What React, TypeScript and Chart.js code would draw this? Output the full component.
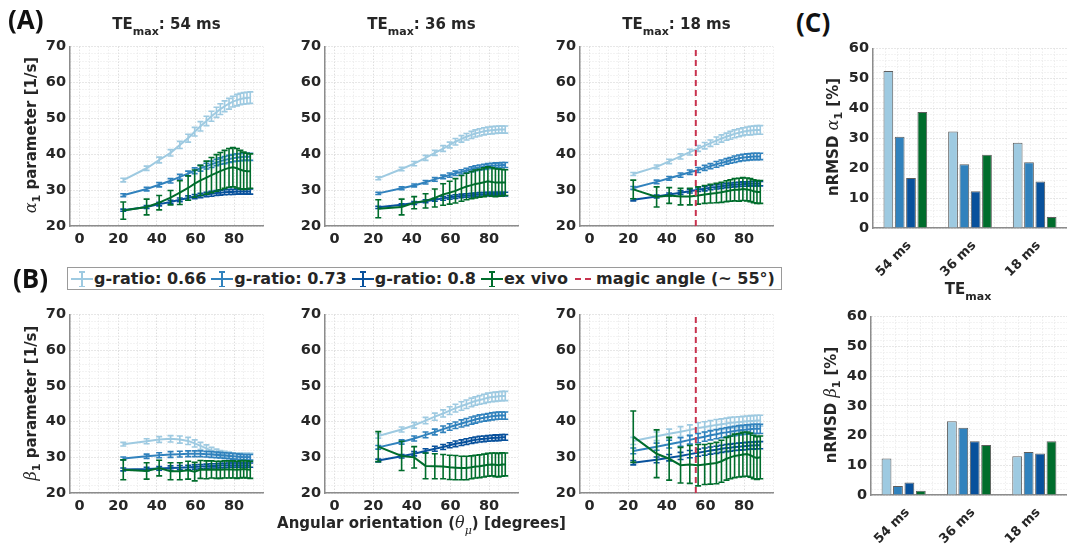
import React, { useEffect, useRef } from 'react';
import { Chart, registerables } from 'chart.js';

Chart.register(...registerables);

// ---------- data ----------
const ANGLES_DEG = [22.6, 34.7, 41.2, 47.1, 51.9, 56.2, 59.6, 62.6, 65.7, 68.3, 70.9, 72.9, 75.1, 77.4, 79.4, 81.5, 83.3, 85.0, 86.7, 88.4];
const MAGIC_ANGLE = 55;

// (A) alpha_1, TEmax 54 ms
const A54_G066 = [32.8, 36.1, 38.4, 40.4, 42.6, 44.5, 46.3, 47.8, 49.3, 50.6, 51.7, 52.6, 53.4, 54.1, 54.7, 55.1, 55.4, 55.6, 55.7, 55.8];
const A54_G066_ERR = [0.5, 0.6, 0.8, 0.9, 1.0, 1.1, 1.2, 1.3, 1.3, 1.4, 1.4, 1.5, 1.5, 1.5, 1.5, 1.6, 1.6, 1.6, 1.6, 1.6];
const A54_G073 = [28.6, 30.3, 31.5, 32.6, 33.7, 34.6, 35.4, 36.1, 36.7, 37.2, 37.7, 38.1, 38.4, 38.7, 38.9, 39.1, 39.2, 39.3, 39.3, 39.3];
const A54_G073_ERR = [0.4, 0.5, 0.6, 0.6, 0.7, 0.7, 0.8, 0.8, 0.8, 0.9, 0.9, 0.9, 1.0, 1.0, 1.0, 1.0, 1.0, 1.0, 1.0, 1.0];
const A54_G080 = [24.4, 25.3, 26.1, 26.7, 27.3, 27.8, 28.2, 28.5, 28.8, 29.0, 29.2, 29.3, 29.4, 29.5, 29.5, 29.6, 29.6, 29.6, 29.6, 29.6];
const A54_G080_ERR = [0.3, 0.4, 0.5, 0.5, 0.5, 0.6, 0.6, 0.6, 0.6, 0.7, 0.7, 0.7, 0.7, 0.7, 0.7, 0.7, 0.7, 0.7, 0.7, 0.7];
const A54_EXV = [24.3, 25.3, 26.5, 27.9, 29.3, 30.6, 31.8, 32.7, 33.5, 34.2, 34.8, 35.3, 35.8, 36.2, 36.4, 36.1, 35.7, 35.4, 35.3, 35.3];
const A54_EXV_ERR = [2.4, 2.2, 2.0, 2.0, 3.3, 3.4, 3.8, 4.2, 4.6, 4.9, 5.1, 5.2, 5.3, 5.4, 5.5, 5.5, 5.4, 5.2, 5.0, 4.8];

// (A) alpha_1, TEmax 36 ms
const A36_G066 = [33.3, 35.9, 37.4, 39.0, 40.4, 41.6, 42.6, 43.5, 44.3, 44.9, 45.4, 45.8, 46.1, 46.4, 46.6, 46.7, 46.8, 46.9, 46.9, 46.9];
const A36_G066_ERR = [0.4, 0.5, 0.6, 0.7, 0.7, 0.8, 0.8, 0.9, 0.9, 0.9, 1.0, 1.0, 1.0, 1.0, 1.0, 1.0, 1.0, 1.0, 1.0, 1.0];
const A36_G073 = [29.1, 30.5, 31.3, 32.2, 33.0, 33.7, 34.2, 34.7, 35.1, 35.5, 35.8, 36.1, 36.3, 36.5, 36.7, 36.8, 36.9, 36.9, 37.0, 37.0];
const A36_G073_ERR = [0.3, 0.4, 0.4, 0.5, 0.5, 0.5, 0.6, 0.6, 0.6, 0.6, 0.7, 0.7, 0.7, 0.7, 0.7, 0.7, 0.7, 0.7, 0.7, 0.7];
const A36_G080 = [25.2, 25.9, 26.4, 26.9, 27.3, 27.7, 28.0, 28.2, 28.4, 28.5, 28.6, 28.7, 28.8, 28.8, 28.9, 28.9, 28.9, 28.9, 28.9, 28.9];
const A36_G080_ERR = [0.3, 0.3, 0.4, 0.4, 0.4, 0.5, 0.5, 0.5, 0.5, 0.5, 0.5, 0.5, 0.5, 0.5, 0.5, 0.5, 0.5, 0.5, 0.5, 0.5];
const A36_EXV = [24.8, 25.3, 26.5, 27.0, 27.8, 28.8, 29.3, 29.8, 30.5, 31.0, 31.4, 31.7, 31.9, 32.2, 32.5, 32.3, 32.1, 32.1, 32.1, 32.1];
const A36_EXV_ERR = [2.5, 2.2, 1.7, 2.0, 2.5, 3.0, 3.2, 3.4, 3.6, 3.7, 3.8, 3.9, 3.9, 4.0, 4.0, 4.0, 3.9, 3.8, 3.7, 3.6];

// (A) alpha_1, TEmax 18 ms
const A18_G066 = [34.5, 36.5, 38.0, 39.4, 40.6, 41.6, 42.4, 43.1, 43.8, 44.4, 44.9, 45.3, 45.7, 46.0, 46.3, 46.5, 46.6, 46.7, 46.8, 46.8];
const A18_G066_ERR = [0.4, 0.5, 0.6, 0.7, 0.8, 0.8, 0.9, 0.9, 1.0, 1.0, 1.0, 1.1, 1.1, 1.1, 1.1, 1.1, 1.2, 1.2, 1.2, 1.2];
const A18_G073 = [30.6, 32.3, 33.3, 34.2, 35.0, 35.6, 36.2, 36.7, 37.2, 37.6, 38.0, 38.3, 38.6, 38.9, 39.1, 39.2, 39.3, 39.4, 39.4, 39.4];
const A18_G073_ERR = [0.4, 0.5, 0.5, 0.6, 0.6, 0.7, 0.7, 0.7, 0.8, 0.8, 0.8, 0.8, 0.9, 0.9, 0.9, 0.9, 0.9, 0.9, 0.9, 0.9];
const A18_G080 = [27.3, 28.2, 28.8, 29.3, 29.7, 30.1, 30.4, 30.7, 30.9, 31.1, 31.3, 31.4, 31.5, 31.6, 31.7, 31.7, 31.8, 31.8, 31.8, 31.8];
const A18_G080_ERR = [0.3, 0.4, 0.4, 0.5, 0.5, 0.5, 0.6, 0.6, 0.6, 0.6, 0.6, 0.6, 0.6, 0.6, 0.6, 0.6, 0.6, 0.6, 0.6, 0.6];
const A18_EXV = [30.2, 28.1, 28.5, 28.2, 28.2, 28.5, 28.8, 29.0, 29.2, 29.4, 29.7, 29.9, 30.1, 30.1, 30.3, 30.2, 30.0, 29.7, 29.5, 29.5];
const A18_EXV_ERR = [2.6, 2.8, 2.2, 2.3, 2.3, 2.4, 2.5, 2.6, 2.7, 2.8, 2.9, 3.0, 3.1, 3.2, 3.2, 3.2, 3.2, 3.2, 3.2, 3.2];

// (B) beta_1, TEmax 54 ms
const B54_G066 = [33.7, 34.5, 35.0, 35.2, 35.0, 34.6, 33.9, 33.2, 32.5, 31.9, 31.4, 31.0, 30.8, 30.6, 30.4, 30.3, 30.3, 30.2, 30.2, 30.2];
const B54_G066_ERR = [0.5, 0.7, 0.8, 0.9, 1.0, 1.0, 1.0, 1.0, 1.0, 0.9, 0.9, 0.9, 0.9, 0.9, 0.9, 0.9, 0.9, 0.9, 0.9, 0.9];
const B54_G073 = [29.7, 30.3, 30.6, 30.8, 30.9, 31.0, 31.0, 31.0, 30.9, 30.8, 30.7, 30.6, 30.5, 30.4, 30.3, 30.2, 30.1, 30.0, 30.0, 30.0];
const B54_G073_ERR = [0.4, 0.6, 0.7, 0.8, 0.8, 0.8, 0.8, 0.8, 0.8, 0.8, 0.8, 0.8, 0.8, 0.8, 0.8, 0.8, 0.8, 0.8, 0.8, 0.8];
const B54_G080 = [26.6, 26.7, 26.9, 27.0, 27.1, 27.2, 27.3, 27.4, 27.5, 27.6, 27.6, 27.7, 27.7, 27.8, 27.8, 27.8, 27.8, 27.8, 27.8, 27.8];
const B54_G080_ERR = [0.4, 0.5, 0.5, 0.6, 0.6, 0.6, 0.6, 0.6, 0.6, 0.6, 0.6, 0.6, 0.6, 0.6, 0.6, 0.6, 0.6, 0.6, 0.6, 0.6];
const B54_EXV = [26.5, 26.2, 27.0, 26.1, 26.1, 26.4, 26.0, 26.6, 26.5, 26.6, 26.5, 26.5, 26.6, 26.6, 26.6, 26.5, 26.6, 26.7, 26.6, 26.5];
const B54_EXV_ERR = [2.8, 2.3, 2.2, 2.4, 2.4, 2.5, 2.6, 2.5, 2.5, 2.4, 2.4, 2.4, 2.4, 2.4, 2.4, 2.4, 2.4, 2.4, 2.4, 2.4];

// (B) beta_1, TEmax 36 ms
const B36_G066 = [36.0, 37.8, 39.0, 40.3, 41.4, 42.3, 43.1, 43.8, 44.4, 44.9, 45.4, 45.8, 46.1, 46.4, 46.7, 46.9, 47.0, 47.1, 47.2, 47.2];
const B36_G066_ERR = [0.6, 0.7, 0.8, 0.9, 1.0, 1.0, 1.1, 1.1, 1.2, 1.2, 1.2, 1.2, 1.2, 1.3, 1.3, 1.3, 1.3, 1.3, 1.3, 1.3];
const B36_G073 = [32.8, 34.3, 35.3, 36.3, 37.1, 37.9, 38.5, 39.0, 39.5, 39.9, 40.3, 40.6, 40.9, 41.1, 41.3, 41.5, 41.6, 41.7, 41.7, 41.7];
const B36_G073_ERR = [0.5, 0.6, 0.7, 0.8, 0.8, 0.9, 0.9, 0.9, 1.0, 1.0, 1.0, 1.0, 1.0, 1.0, 1.0, 1.0, 1.0, 1.0, 1.0, 1.0];
const B36_G080 = [29.1, 30.3, 31.0, 31.8, 32.4, 32.9, 33.4, 33.8, 34.1, 34.4, 34.7, 34.9, 35.1, 35.2, 35.3, 35.4, 35.5, 35.5, 35.6, 35.6];
const B36_G080_ERR = [0.4, 0.5, 0.6, 0.6, 0.7, 0.7, 0.7, 0.8, 0.8, 0.8, 0.8, 0.8, 0.8, 0.8, 0.8, 0.8, 0.8, 0.8, 0.8, 0.8];
const B36_EXV = [33.0, 30.4, 30.0, 27.6, 27.5, 27.4, 27.2, 27.1, 27.0, 27.0, 27.2, 27.4, 27.5, 27.7, 27.9, 28.0, 27.9, 27.8, 28.0, 28.0];
const B36_EXV_ERR = [4.2, 4.1, 3.0, 3.6, 3.5, 3.4, 3.4, 3.4, 3.3, 3.3, 3.2, 3.2, 3.2, 3.2, 3.2, 3.2, 3.3, 3.3, 3.3, 3.2];

// (B) beta_1, TEmax 18 ms
const B18_G066 = [34.6, 35.9, 36.6, 37.2, 37.7, 38.2, 38.5, 38.8, 39.1, 39.3, 39.5, 39.7, 39.8, 39.9, 40.0, 40.1, 40.2, 40.2, 40.3, 40.3];
const B18_G066_ERR = [1.0, 1.2, 1.3, 1.4, 1.4, 1.5, 1.5, 1.5, 1.5, 1.5, 1.5, 1.5, 1.5, 1.5, 1.5, 1.5, 1.5, 1.5, 1.5, 1.5];
const B18_G073 = [31.8, 33.0, 33.7, 34.3, 34.9, 35.4, 35.8, 36.2, 36.5, 36.8, 37.0, 37.2, 37.4, 37.6, 37.7, 37.8, 37.9, 38.0, 38.0, 38.0];
const B18_G073_ERR = [0.8, 1.0, 1.1, 1.2, 1.2, 1.3, 1.3, 1.3, 1.3, 1.3, 1.3, 1.3, 1.3, 1.3, 1.3, 1.3, 1.3, 1.3, 1.3, 1.3];
const B18_G080 = [28.5, 29.3, 29.9, 30.4, 30.9, 31.3, 31.6, 31.9, 32.1, 32.4, 32.6, 32.7, 32.9, 33.0, 33.1, 33.2, 33.3, 33.3, 33.4, 33.4];
const B18_G080_ERR = [0.6, 0.8, 0.9, 1.0, 1.0, 1.0, 1.0, 1.0, 1.0, 1.0, 1.0, 1.0, 1.0, 1.0, 1.0, 1.0, 1.0, 1.0, 1.0, 1.0];
const B18_EXV = [35.8, 31.0, 29.6, 27.8, 28.0, 27.8, 28.0, 28.2, 28.4, 28.9, 29.6, 30.0, 30.4, 30.6, 30.8, 30.9, 30.6, 30.1, 29.8, 30.0];
const B18_EXV_ERR = [7.2, 6.7, 6.0, 5.0, 5.3, 5.8, 5.6, 5.7, 5.8, 5.9, 6.0, 6.0, 6.1, 6.1, 6.2, 6.2, 6.2, 6.1, 6.0, 6.0];

// (C) nRMSD bars
const TE_LABELS = ['54 ms', '36 ms', '18 ms'];
const NRMSD_ALPHA_G066 = [52.5, 32.3, 28.5];
const NRMSD_ALPHA_G073 = [30.5, 21.3, 22.0];
const NRMSD_ALPHA_G080 = [16.7, 12.3, 15.6];
const NRMSD_ALPHA_EXV = [38.8, 24.5, 3.7];
const NRMSD_BETA_G066 = [12.3, 24.8, 13.0];
const NRMSD_BETA_G073 = [3.0, 22.6, 14.5];
const NRMSD_BETA_G080 = [4.2, 18.1, 14.0];
const NRMSD_BETA_EXV = [1.4, 16.8, 18.1];

const SERIES_LABELS = ['g-ratio: 0.66', 'g-ratio: 0.73', 'g-ratio: 0.8', 'ex vivo'];

// ---------- styles ----------
const C_066 = '#9ecae1';
const C_073 = '#3182bd';
const C_080 = '#08519c';
const C_EXV = '#006d2c';
const C_MAGIC = '#c8324e';
const SERIES_COLORS = [C_066, C_073, C_080, C_EXV];
const FONT = "'DejaVu Sans', sans-serif";
const SERIF = "'DejaVu Serif', serif";
const TXT = '#262626';
const AXIS = '#8c8c8c';
const tickFont = { family: FONT, size: 14.5, weight: 'bold' as const };
const barTickFont = { family: FONT, size: 13, weight: 'bold' as const };

const gridColor = (major: number) => (ctx: any) => {
  const v = ctx.tick ? ctx.tick.value : 0;
  const r = Math.abs(v / major - Math.round(v / major));
  return r < 1e-6 ? '#cfcfcf' : '#e6e6e6';
};

const errorBarPlugin = {
  id: 'errorBars',
  afterDatasetDraw(chart: any, args: any) {
    const ds = chart.data.datasets[args.index];
    const errs = ds.errorBars;
    if (!errs) return;
    const yScale = chart.scales.y;
    const ctx = chart.ctx;
    ctx.save();
    ctx.strokeStyle = ds.borderColor;
    ctx.lineWidth = 1.6;
    args.meta.data.forEach((el: any, i: number) => {
      const v = ds.data[i].y;
      const x = el.x;
      const t = yScale.getPixelForValue(v + errs[i]);
      const b = yScale.getPixelForValue(v - errs[i]);
      ctx.beginPath();
      ctx.moveTo(x, t);
      ctx.lineTo(x, b);
      ctx.moveTo(x - 3, t);
      ctx.lineTo(x + 3, t);
      ctx.moveTo(x - 3, b);
      ctx.lineTo(x + 3, b);
      ctx.stroke();
    });
    ctx.restore();
  },
};

const Y_W = 40;
const X_H = 30;
const PAD_T = 10;
const PAD_R = 10;

type PanelProps = {
  left: number;
  top: number;
  plotW: number;
  plotH: number;
  vals: number[][];
  errs: number[][];
  magic?: boolean;
};

function LinePanel({ left, top, plotW, plotH, vals, errs, magic }: PanelProps) {
  const ref = useRef<HTMLCanvasElement>(null);
  const cw = Y_W + plotW + PAD_R;
  const ch = PAD_T + plotH + X_H;
  useEffect(() => {
    const datasets: any[] = vals.map((v, k) => ({
      label: SERIES_LABELS[k],
      data: ANGLES_DEG.map((x, i) => ({ x, y: v[i] })),
      errorBars: errs[k],
      borderColor: SERIES_COLORS[k],
      backgroundColor: SERIES_COLORS[k],
      borderWidth: 2,
      pointRadius: 0,
      tension: 0,
      order: 3 - k,
    }));
    if (magic) {
      datasets.push({
        label: 'magic angle (~ 55°)',
        data: [
          { x: MAGIC_ANGLE, y: 20 },
          { x: MAGIC_ANGLE, y: 70 },
        ],
        borderColor: C_MAGIC,
        borderWidth: 2,
        borderDash: [6, 4],
        pointRadius: 0,
        order: -1,
      });
    }
    const chart = new Chart(ref.current as HTMLCanvasElement, {
      type: 'line',
      data: { datasets },
      options: {
        responsive: false,
        animation: false,
        devicePixelRatio: 1,
        events: [],
        layout: { padding: { top: PAD_T, right: PAD_R, left: 0, bottom: 0 } },
        plugins: { legend: { display: false }, tooltip: { enabled: false } },
        scales: {
          x: {
            type: 'linear',
            min: -5,
            max: 95,
            afterFit: (s: any) => {
              s.height = X_H;
            },
            ticks: {
              stepSize: 5,
              autoSkip: false,
              maxRotation: 0,
              padding: 5,
              color: TXT,
              font: tickFont,
              callback: (v: any) => (v % 20 === 0 && v >= 0 ? String(v) : ''),
            },
            grid: { color: gridColor(20), lineWidth: 1, drawTicks: false },
            border: { display: true, color: AXIS, width: 1.5, dash: [1, 2] },
          },
          y: {
            type: 'linear',
            min: 20,
            max: 70,
            afterFit: (s: any) => {
              s.width = Y_W;
            },
            ticks: {
              stepSize: 2,
              autoSkip: false,
              padding: 4,
              color: TXT,
              font: tickFont,
              callback: (v: any) => (v % 10 === 0 ? String(v) : ''),
            },
            grid: { color: gridColor(10), lineWidth: 1, drawTicks: false },
            border: { display: true, color: AXIS, width: 1.5, dash: [1, 2] },
          },
        },
      } as any,
      plugins: [errorBarPlugin],
    });
    return () => chart.destroy();
  }, []);
  return (
    <canvas
      ref={ref}
      width={cw}
      height={ch}
      style={{ position: 'absolute', left: left - Y_W, top: top - PAD_T, width: cw, height: ch }}
    />
  );
}

const BAR_XH = 60;

function BarPanel({ left, top, plotW, plotH, vals }: { left: number; top: number; plotW: number; plotH: number; vals: number[][] }) {
  const ref = useRef<HTMLCanvasElement>(null);
  const cw = Y_W + plotW;
  const ch = PAD_T + plotH + BAR_XH;
  useEffect(() => {
    const chart = new Chart(ref.current as HTMLCanvasElement, {
      type: 'bar',
      data: {
        labels: TE_LABELS,
        datasets: vals.map((v, k) => ({
          label: SERIES_LABELS[k],
          data: v,
          xAxisID: 'x',
          yAxisID: 'y',
          backgroundColor: SERIES_COLORS[k],
          borderColor: '#5e5e5e',
          borderWidth: 1,
          categoryPercentage: 0.7,
          barPercentage: 0.86,
        })),
      },
      options: {
        responsive: false,
        animation: false,
        devicePixelRatio: 1,
        events: [],
        layout: { padding: { top: PAD_T, right: 0, left: 0, bottom: 0 } },
        plugins: { legend: { display: false }, tooltip: { enabled: false } },
        scales: {
          x: {
            type: 'category',
            afterFit: (s: any) => {
              s.height = BAR_XH;
            },
            ticks: { minRotation: 45, maxRotation: 45, padding: 2, labelOffset: 4, color: TXT, font: barTickFont, autoSkip: false },
            grid: { display: false },
            border: { display: true, color: AXIS, width: 1.5 },
          },
          x2: {
            type: 'linear',
            axis: 'x',
            position: 'bottom',
            min: -0.5,
            max: 2.5,
            afterFit: (s: any) => {
              s.height = 0;
            },
            ticks: { display: false, stepSize: 0.2 },
            grid: { color: gridColor(1), lineWidth: 1, drawTicks: false },
            border: { display: false, dash: [1, 2] },
          },
          y: {
            type: 'linear',
            min: 0,
            max: 60,
            afterFit: (s: any) => {
              s.width = Y_W;
            },
            ticks: {
              stepSize: 2,
              autoSkip: false,
              padding: 4,
              color: TXT,
              font: tickFont,
              callback: (v: any) => (v % 10 === 0 ? String(v) : ''),
            },
            grid: { color: gridColor(10), lineWidth: 1, drawTicks: false },
            border: { display: true, color: AXIS, width: 1.5, dash: [1, 2] },
          },
        },
      } as any,
    });
    return () => chart.destroy();
  }, []);
  return (
    <canvas
      ref={ref}
      width={cw}
      height={ch}
      style={{ position: 'absolute', left: left - Y_W, top: top - PAD_T, width: cw, height: ch }}
    />
  );
}

// ---------- text helpers ----------
const baseText: React.CSSProperties = {
  position: 'absolute',
  fontFamily: FONT,
  fontWeight: 'bold',
  fontSize: 15,
  color: TXT,
  whiteSpace: 'nowrap',
  lineHeight: '15px',
};

function Title({ cx, top, te }: { cx: number; top: number; te: string }) {
  return (
    <div style={{ ...baseText, left: cx, top, transform: 'translateX(-50%)' }}>
      TE<span style={{ fontSize: 11, position: 'relative', top: 6 }}>max</span>: {te}
    </div>
  );
}

function VTitle({ cx, cy, children }: { cx: number; cy: number; children: React.ReactNode }) {
  return (
    <div
      style={{
        ...baseText,
        left: cx,
        top: cy,
        lineHeight: '18px',
        transform: 'translate(-50%, -50%) rotate(-90deg)',
      }}
    >
      {children}
    </div>
  );
}

const Greek = ({ ch }: { ch: string }) => (
  <span style={{ fontFamily: SERIF, fontStyle: 'italic', fontWeight: 'normal', fontSize: 16 }}>{ch}</span>
);
const Sub = ({ t, dy = 4 }: { t: string; dy?: number }) => (
  <span style={{ fontSize: 11, position: 'relative', top: dy }}>{t}</span>
);

function ErrSym({ color }: { color: string }) {
  return (
    <span style={{ position: 'relative', display: 'inline-block', width: 22, height: 21, flex: 'none' }}>
      <span style={{ position: 'absolute', left: 0, top: 10, width: 22, height: 2, background: color }} />
      <span style={{ position: 'absolute', left: 10, top: 3, width: 2, height: 16, background: color }} />
      <span style={{ position: 'absolute', left: 8, top: 3, width: 6, height: 1.5, background: color }} />
      <span style={{ position: 'absolute', left: 8, top: 17.5, width: 6, height: 1.5, background: color }} />
    </span>
  );
}

function DashSym() {
  return (
    <span style={{ position: 'relative', display: 'inline-block', width: 22, height: 21, flex: 'none' }}>
      <span style={{ position: 'absolute', left: 2, top: 10, width: 6, height: 2, background: C_MAGIC }} />
      <span style={{ position: 'absolute', left: 12, top: 10, width: 6, height: 2, background: C_MAGIC }} />
    </span>
  );
}

const panelLabel: React.CSSProperties = {
  position: 'absolute',
  fontFamily: "'Open Sans', sans-serif",
  fontWeight: 700,
  fontSize: 26,
  lineHeight: '26px',
  color: '#111',
};

// ---------- layout ----------
const COL_LEFT = [70, 325, 580];
const PLOT_W = 193;
const ROW_A_TOP = 44;
const ROW_A_H = 182;
const ROW_B_TOP = 312;
const ROW_B_H = 181;

export default function App() {
  const aVals = [
    [A54_G066, A54_G073, A54_G080, A54_EXV],
    [A36_G066, A36_G073, A36_G080, A36_EXV],
    [A18_G066, A18_G073, A18_G080, A18_EXV],
  ];
  const aErrs = [
    [A54_G066_ERR, A54_G073_ERR, A54_G080_ERR, A54_EXV_ERR],
    [A36_G066_ERR, A36_G073_ERR, A36_G080_ERR, A36_EXV_ERR],
    [A18_G066_ERR, A18_G073_ERR, A18_G080_ERR, A18_EXV_ERR],
  ];
  const bVals = [
    [B54_G066, B54_G073, B54_G080, B54_EXV],
    [B36_G066, B36_G073, B36_G080, B36_EXV],
    [B18_G066, B18_G073, B18_G080, B18_EXV],
  ];
  const bErrs = [
    [B54_G066_ERR, B54_G073_ERR, B54_G080_ERR, B54_EXV_ERR],
    [B36_G066_ERR, B36_G073_ERR, B36_G080_ERR, B36_EXV_ERR],
    [B18_G066_ERR, B18_G073_ERR, B18_G080_ERR, B18_EXV_ERR],
  ];
  const teNames = ['54 ms', '36 ms', '18 ms'];
  return (
    <div
      style={{
        position: 'absolute',
        left: 0,
        top: 0,
        width: 1067,
        height: 544,
        overflow: 'hidden',
        background: '#ffffff',
      }}
    >
      {COL_LEFT.map((l, j) => (
        <LinePanel key={'a' + j} left={l} top={ROW_A_TOP} plotW={PLOT_W} plotH={ROW_A_H} vals={aVals[j]} errs={aErrs[j]} magic={j === 2} />
      ))}
      {COL_LEFT.map((l, j) => (
        <LinePanel key={'b' + j} left={l} top={ROW_B_TOP} plotW={PLOT_W} plotH={ROW_B_H} vals={bVals[j]} errs={bErrs[j]} magic={j === 2} />
      ))}
      <BarPanel left={873} top={46} plotW={194} plotH={182} vals={[NRMSD_ALPHA_G066, NRMSD_ALPHA_G073, NRMSD_ALPHA_G080, NRMSD_ALPHA_EXV]} />
      <BarPanel left={871} top={314} plotW={196} plotH={181} vals={[NRMSD_BETA_G066, NRMSD_BETA_G073, NRMSD_BETA_G080, NRMSD_BETA_EXV]} />

      {/* titles */}
      {COL_LEFT.map((l, j) => (
        <Title key={'t' + j} cx={l + PLOT_W / 2} top={17} te={teNames[j]} />
      ))}

      {/* y-axis titles */}
      <VTitle cx={32} cy={ROW_A_TOP + ROW_A_H / 2}>
        <Greek ch="α" />
        <Sub t="1" /> parameter [1/s]
      </VTitle>
      <VTitle cx={32} cy={ROW_B_TOP + ROW_B_H / 2}>
        <Greek ch="β" />
        <Sub t="1" /> parameter [1/s]
      </VTitle>
      <VTitle cx={834} cy={137}>
        nRMSD <Greek ch="α" />
        <Sub t="1" /> [%]
      </VTitle>
      <VTitle cx={832} cy={405}>
        nRMSD <Greek ch="β" />
        <Sub t="1" /> [%]
      </VTitle>

      {/* x-axis titles */}
      <div style={{ ...baseText, left: COL_LEFT[1] + PLOT_W / 2, top: 515, transform: 'translateX(-50%)' }}>
        Angular orientation (<Greek ch="θ" />
        <span style={{ fontFamily: SERIF, fontStyle: 'italic', fontWeight: 'normal', fontSize: 11, position: 'relative', top: 6 }}>μ</span>) [degrees]
      </div>
      <div style={{ ...baseText, left: 968, top: 282, transform: 'translateX(-50%)' }}>
        TE<span style={{ fontSize: 11, position: 'relative', top: 6 }}>max</span>
      </div>

      {/* legend */}
      <div
        style={{
          position: 'absolute',
          left: 67,
          top: 267,
          width: 715,
          height: 23,
          boxSizing: 'border-box',
          border: '1px solid #9a9a9a',
          background: '#fff',
          display: 'flex',
          alignItems: 'center',
          paddingLeft: 3,
          fontFamily: FONT,
          fontWeight: 'bold',
          fontSize: 16,
          color: TXT,
          whiteSpace: 'nowrap',
        }}
      >
        {SERIES_LABELS.map((lab, k) => (
          <span key={lab} style={{ display: 'flex', alignItems: 'center', marginRight: 5 }}>
            <ErrSym color={SERIES_COLORS[k]} />
            <span style={{ marginLeft: 1 }}>{lab}</span>
          </span>
        ))}
        <span style={{ display: 'flex', alignItems: 'center' }}>
          <DashSym />
          <span style={{ marginLeft: 1 }}>magic angle (~ 55°)</span>
        </span>
      </div>

      {/* panel labels */}
      <div style={{ ...panelLabel, left: 8, top: 6 }}>(A)</div>
      <div style={{ ...panelLabel, left: 13, top: 265 }}>(B)</div>
      <div style={{ ...panelLabel, left: 796, top: 9 }}>(C)</div>
    </div>
  );
}
